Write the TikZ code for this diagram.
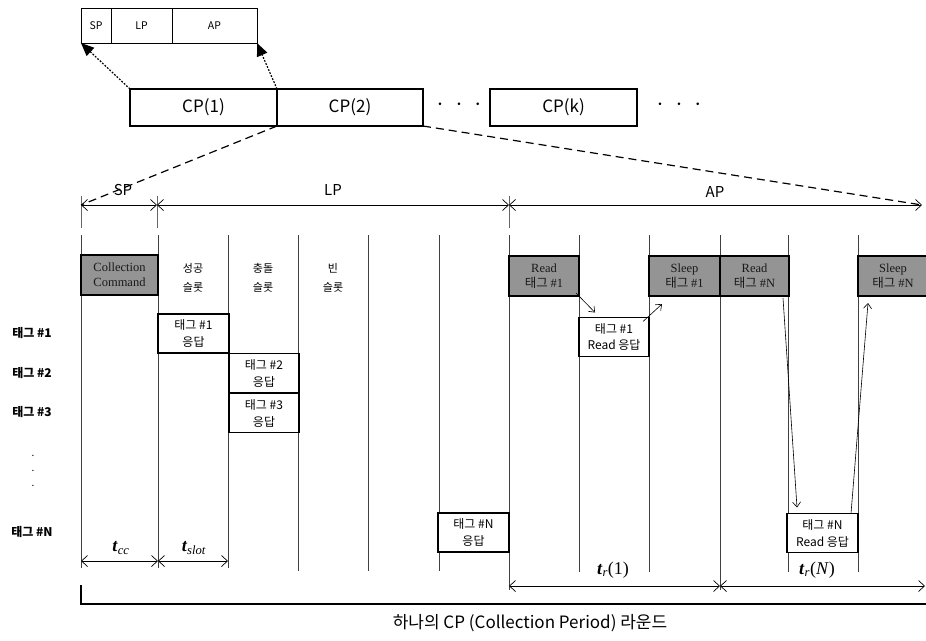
\documentclass[tikz,border=0pt]{standalone}
\usepackage{fontspec}
\setmainfont{Noto Sans CJK KR}
\newfontfamily\ser{Liberation Serif}
\usetikzlibrary{arrows.meta,calc}
\begin{document}
\begin{tikzpicture}[x=1pt,y=-1pt,
  cpbox/.style={draw, line width=1.1pt, minimum height=37pt, inner sep=0, outer sep=0, font=\fontsize{17}{20}\selectfont},
  hdr/.style={draw, line width=1pt, minimum height=35pt, inner sep=0, outer sep=0, font=\fontsize{10.5}{12}\selectfont},
  graybox/.style={draw, line width=1.6pt, fill=black!42, minimum height=40pt, minimum width=70pt, inner sep=0, outer sep=0, align=center, font=\fontsize{12.5}{15}\selectfont, text=black!90},
  resp/.style={draw, fill=white, line width=1.6pt, minimum height=39pt, minimum width=70pt, inner sep=0, outer sep=0, align=center, font=\fontsize{12}{17}\selectfont},
  slotline/.style={line width=0.8pt, black!75},
  dim/.style={line width=0.7pt, {Straight Barb[length=6pt,width=11pt]}-{Straight Barb[length=6pt,width=11pt]}},
  tickln/.style={line width=0.6pt, black!60},
  msg/.style={line width=0.6pt, -{Straight Barb[length=5pt,width=8pt]}},
  dashln/.style={line width=1.2pt, dash pattern=on 8pt off 5pt},
  dotarr/.style={line width=1.2pt, dash pattern=on 1.8pt off 1.5pt, -{Triangle[length=13pt,width=11pt,fill=black]}},
  rowlbl/.style={font=\bfseries\fontsize{12}{14}\selectfont},
  collbl/.style={align=center, font=\fontsize{11}{19}\selectfont},
  axlbl/.style={font=\fontsize{15}{18}\selectfont},
  tlbl/.style={font=\ser\fontsize{18}{20}\selectfont}
]
\useasboundingbox (0,0) rectangle (926,640);

% slot grid lines
\foreach \x/\yb in {81/568,158/568,228/568,298/571,368/571,439/571,509/590,579/572,649/572,720/590,788/572,858/572}
  \draw[slotline] (\x,235) -- (\x,\yb);

% top frame
\node[hdr, minimum width=30pt] (hsp) at (96,25.5) {SP};
\node[hdr, minimum width=61pt] (hlp) at (141.5,25.5) {LP};
\node[hdr, minimum width=85pt] (hap) at (214.5,25.5) {AP};

% CP boxes
\node[cpbox, minimum width=147pt] (cp1) at (203.5,107.5) {CP(1)};
\node[cpbox, minimum width=146pt] (cp2) at (350,107.5) {CP(2)};
\node[cpbox, minimum width=147pt] (cpk) at (563.5,107.5) {CP(k)};
\node[font=\fontsize{24}{26}\selectfont] (dots1) at (459,105) {\makebox[19pt]{$\cdot$}\makebox[19pt]{$\cdot$}\makebox[19pt]{$\cdot$}};
\node[font=\fontsize{24}{26}\selectfont] (dots2) at (679,105) {\makebox[19pt]{$\cdot$}\makebox[19pt]{$\cdot$}\makebox[19pt]{$\cdot$}};

\draw[dotarr] (cp1.north west) -- (hsp.south west);
\draw[dotarr] (cp1.north east) -- (hap.south east);

% axis
\coordinate (a0) at (81,205);
\coordinate (a1) at (157,205);
\coordinate (a2) at (509,205);
\coordinate (a3) at (922,205);
\foreach \x in {81,157,509} \draw[tickln] (\x,196) -- (\x,228);
\draw[dim] (a0) -- (a1);
\draw[dim] (a1) -- (a2);
\draw[dim] (a2) -- (a3);
\draw[dashln] (cp2.south west) -- (a0);
\draw[dashln] (cp2.south east) -- (a3);
\node[axlbl] (lsp) at (123,190) {SP};
\node[axlbl] (llp) at (333,190) {LP};
\node[axlbl] (lap) at (715,192) {AP};

% gray command boxes
\node[graybox, minimum width=77pt] (cc) at (119.5,275) {{\ser Collection}\\{\ser Command}};
\node[graybox] (r1) at (544,276) {{\ser Read}\\태그 {\ser\#1}};
\node[graybox, minimum width=71pt] (s1) at (684.5,276) {{\ser Sleep}\\태그 {\ser\#1}};
\node[graybox, minimum width=69pt] (rN) at (754.5,276) {{\ser Read}\\태그 {\ser\#N}};
\node[graybox] (sN) at (893,276) {{\ser Sleep}\\태그 {\ser\#N}};

% column labels
\node[collbl] (c1) at (193,278) {성공\\슬롯};
\node[collbl] (c2) at (263,278) {충돌\\슬롯};
\node[collbl] (c3) at (333,278) {빈\\슬롯};

% row labels
\node[rowlbl] (row1) at (32,333) {태그 \#1};
\node[rowlbl] (row2) at (32,373) {태그 \#2};
\node[rowlbl] (row3) at (32,412) {태그 \#3};
\node[align=center, font=\fontsize{10}{15}\selectfont] (rowd) at (33,471) {.\\.\\.};
\node[rowlbl] (rowN) at (32,532) {태그 \#N};

% response boxes
\node[resp, minimum width=71pt] (t1) at (193.5,333.5) {태그 \#1\\응답};
\node[resp] (t2) at (264,373) {태그 \#2\\응답};
\node[resp] (t3) at (264,413) {태그 \#3\\응답};
\node[resp, minimum width=71pt] (tN) at (473.5,532.5) {태그 \#N\\응답};
\node[resp] (rr1) at (614,337) {태그 \#1\\Read 응답};
\node[resp, minimum width=71pt] (rrN) at (822.5,533) {태그 \#N\\Read 응답};

% message arrows
\draw[msg] ($(r1.south east)+(-3,-3)$) -- ($(rr1.north west)+(16,-5)$);
\draw[msg] ($(rr1.north east)+(-6,4)$) -- ($(s1.south west)+(13,8)$);
\draw[msg] ($(rN.south east)+(-6,2)$) -- ($(rrN.north west)+(10,-6)$);
\draw[msg] ($(rrN.north east)+(-7,0)$) -- ($(sN.south west)+(10,7)$);

% bottom dimensions
\coordinate (b0) at (81,561);
\coordinate (b1) at (158,561);
\coordinate (b2) at (228,561);
\draw[dim] (b0) -- (b1);
\draw[dim] (b1) -- (b2);
\node[tlbl] (ltcc) at (121,548) {\textbf{\textit{t}}\textsubscript{\textit{cc}}};
\node[tlbl] (ltslot) at (194,548) {\textbf{\textit{t}}\textsubscript{\textit{slot}}};
\coordinate (d0) at (509,586);
\coordinate (d1) at (720,586);
\coordinate (d2) at (925,586);
\draw[dim] (d0) -- (d1);
\draw[dim] (d1) -- (d2);
\node[tlbl] (ltr1) at (613,570) {\textbf{\textit{t}}\textsubscript{\textit{r}}(1)};
\node[tlbl] (ltrN) at (817,570) {\textbf{\textit{t}}\textsubscript{\textit{r}}(\textit{N})};

% bracket and caption
\draw[line width=1.3pt] (81,585) -- (81,604) -- (930,604);
\node[font=\fontsize{17}{20}\selectfont] (cap) at (530,623) {하나의 CP (Collection Period) 라운드};
\end{tikzpicture}
\end{document}
